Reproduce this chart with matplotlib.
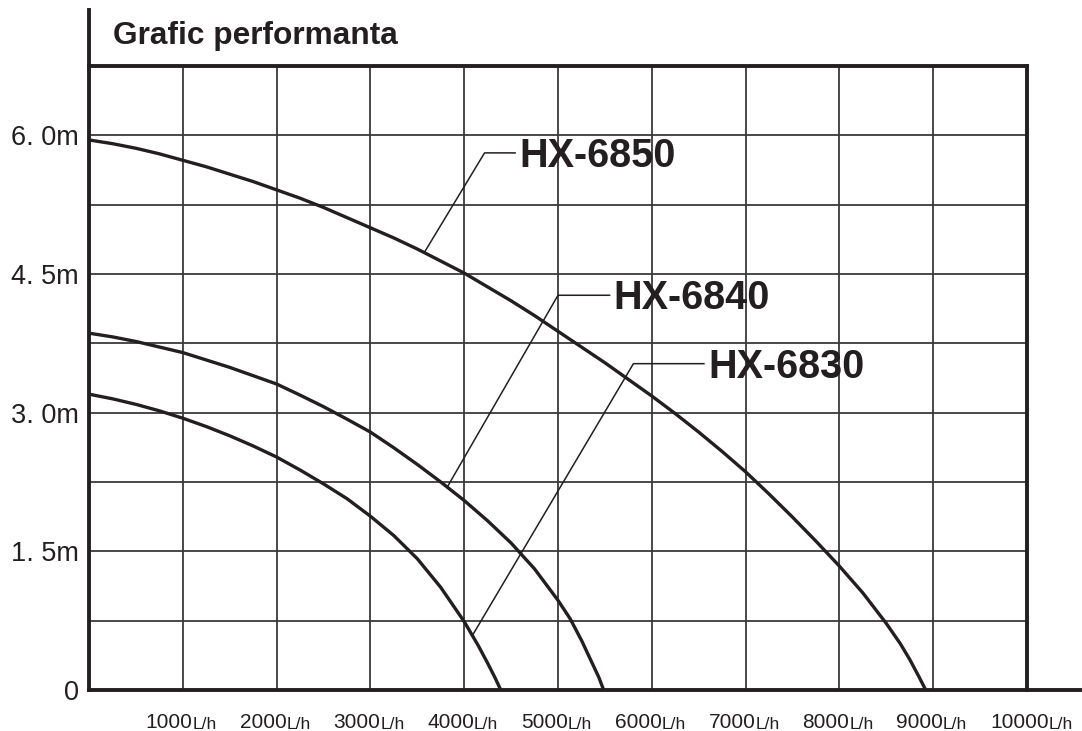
import matplotlib.pyplot as plt
import numpy as np

plt.rcParams['font.family'] = ['Liberation Sans', 'DejaVu Sans']

INK = '#231f20'

# pump curves: flow (L/h) vs head (m)
hx6850_flow = [0, 250, 500, 750, 1000, 1250, 1500, 1750, 2000, 2250, 2500, 2750,
               3000, 3250, 3500, 3750, 4000, 4250, 4500, 4750, 5000, 5250, 5500, 5750,
               6000, 6250, 6500, 6750, 7000, 7250, 7500, 7750, 8000, 8250, 8500, 8650,
               8750, 8850, 8920]
hx6850_head = [5.95, 5.91, 5.86, 5.80, 5.73, 5.66, 5.58, 5.50, 5.41, 5.32, 5.22, 5.11,
               5.00, 4.89, 4.77, 4.64, 4.51, 4.36, 4.21, 4.05, 3.88, 3.71, 3.54, 3.36,
               3.18, 2.99, 2.79, 2.58, 2.36, 2.12, 1.87, 1.61, 1.34, 1.05, 0.72, 0.50,
               0.33, 0.14, 0.0]

hx6840_flow = [0, 250, 500, 750, 1000, 1250, 1500, 1750, 2000, 2250, 2500, 2750,
               3000, 3250, 3500, 3750, 4000, 4250, 4500, 4750, 5000, 5130, 5254, 5360,
               5434, 5487]
hx6840_head = [3.86, 3.82, 3.77, 3.71, 3.65, 3.57, 3.49, 3.40, 3.31, 3.19, 3.065, 2.93,
               2.79, 2.62, 2.44, 2.25, 2.05, 1.83, 1.59, 1.31, 0.97, 0.77, 0.53, 0.30,
               0.14, 0.0]

hx6830_flow = [0, 250, 500, 750, 1000, 1250, 1500, 1750, 2000, 2250, 2500, 2750,
               3000, 3250, 3500, 3750, 4000, 4150, 4250, 4330, 4390]
hx6830_head = [3.20, 3.15, 3.09, 3.02, 2.94, 2.85, 2.75, 2.64, 2.52, 2.38, 2.23, 2.07,
               1.88, 1.67, 1.42, 1.11, 0.74, 0.48, 0.29, 0.13, 0.0]

models = ["HX-6850", "HX-6840", "HX-6830"]
curves = [(hx6850_flow, hx6850_head), (hx6840_flow, hx6840_head), (hx6830_flow, hx6830_head)]

# axis ticks and labels
x_ticks = [1000, 2000, 3000, 4000, 5000, 6000, 7000, 8000, 9000, 10000]
x_numbers = ["1000", "2000", "3000", "4000", "5000", "6000", "7000", "8000", "9000", "10000"]
x_unit = "L/h"
y_ticks = [0, 1.5, 3.0, 4.5, 6.0]
y_labels = ["0", "1. 5m", "3. 0m", "4. 5m", "6. 0m"]
y_grid = [0.75, 2.25, 3.75, 5.25]

# leader lines: flow where leader leaves the curve, elbow point, end of horizontal
leader_from = [3574, 3819, 4087]
leader_elbow = [(4217, 5.81), (5000, 4.27), (5804, 3.53)]
leader_to = [4543, 5550, 6556]

fig = plt.figure(figsize=(10.82, 7.31), dpi=100)
W, H = 1082, 731
ax = fig.add_axes([89 / W, 41 / H, 938 / W, 624 / H])
ax.set_xlim(0, 10000)
ax.set_ylim(0, 6.75)

ax.set_xticks(x_ticks)
ax.set_xticklabels([])
ax.set_yticks(y_ticks)
ax.set_yticklabels(y_labels, fontsize=19.5, color=INK)
ax.set_yticks(y_grid, minor=True)
ax.tick_params(axis='both', which='both', length=0)
ax.tick_params(axis='y', pad=7.2)
ax.grid(True, which='both', color='#3a3a3a', lw=1.3, zorder=1)
ax.set_axisbelow(True)

for side in ['left', 'bottom']:
    ax.spines[side].set_visible(False)
for side in ['top', 'right']:
    ax.spines[side].set_linewidth(2.8)
    ax.spines[side].set_color(INK)

# long left and bottom axes that run past the frame
ax.plot([0, 0], [0, 680 / 624], transform=ax.transAxes, color=INK, lw=2.8,
        clip_on=False, solid_capstyle='projecting', zorder=5)
ax.plot([0, 991 / 938], [0, 0], transform=ax.transAxes, color=INK, lw=2.8,
        clip_on=False, solid_capstyle='projecting', zorder=5)

for (flow, head) in curves:
    ax.plot(flow, head, color=INK, lw=2.4, solid_capstyle='butt',
            solid_joinstyle='round', zorder=3)

for name, (flow, head), x0, (ex, ey), x1 in zip(models, curves, leader_from, leader_elbow, leader_to):
    y0 = np.interp(x0, flow, head)
    ax.plot([x0, ex, x1], [y0, ey, ey], color=INK, lw=1.1, zorder=4)
    ax.annotate(name, xy=(x1, ey), xytext=(4, -14), textcoords='offset pixels',
                ha='left', va='baseline', fontsize=28.5, fontweight='bold', color=INK,
                zorder=6)

for tick, num in zip(x_ticks, x_numbers):
    t = ax.annotate(num, xy=(tick, 0), xycoords=('data', 'axes fraction'),
                    xytext=(-37, -38), textcoords='offset pixels',
                    ha='left', va='baseline', fontsize=15, color=INK,
                    annotation_clip=False)
    ax.annotate(x_unit, xy=(1, 0), xycoords=t, xytext=(0, 0), textcoords='offset pixels',
                ha='left', va='bottom', fontsize=12.5, color=INK, annotation_clip=False)

fig.text(113 / W, 1 - 44 / H, "Grafic performanta", fontsize=22.8, fontweight='bold',
         color=INK, ha='left', va='baseline')

fig.savefig("out.png", dpi=100)
